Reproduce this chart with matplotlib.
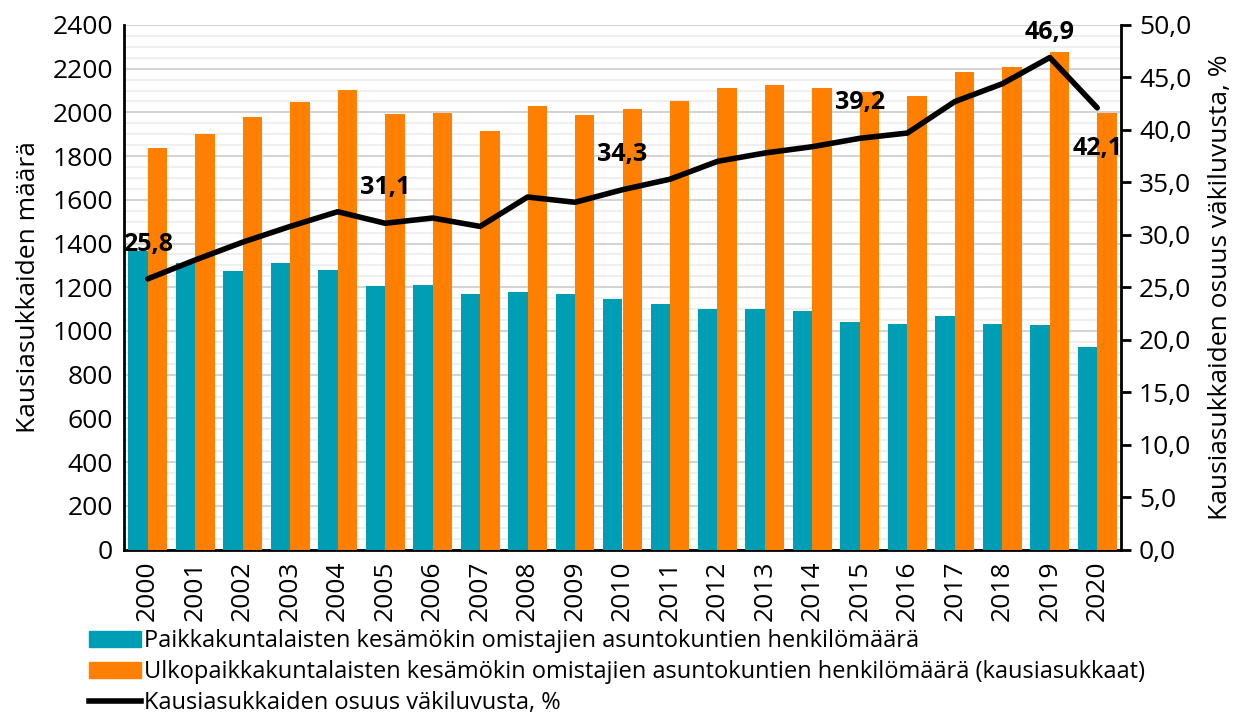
import matplotlib
matplotlib.use("Agg")
import matplotlib.pyplot as plt
import numpy as np
from matplotlib.ticker import MultipleLocator, FuncFormatter
from matplotlib.patches import Patch
from matplotlib.lines import Line2D

plt.rcParams['font.family'] = ['Open Sans', 'DejaVu Sans']

years = [str(y) for y in range(2000, 2021)]
local_persons = [1364, 1313, 1273, 1313, 1278, 1208, 1210, 1171, 1176, 1170, 1147,
                 1122, 1099, 1099, 1090, 1040, 1031, 1069, 1031, 1025, 925]
outside_persons = [1837, 1901, 1977, 2047, 2103, 1993, 1996, 1915, 2029, 1990, 2016,
                   2054, 2110, 2124, 2110, 2094, 2077, 2187, 2208, 2278, 1997]
share_pct = [25.8, 27.6, 29.3, 30.8, 32.2, 31.1, 31.6, 30.8, 33.6, 33.1, 34.3,
             35.3, 37.0, 37.8, 38.4, 39.2, 39.7, 42.7, 44.4, 46.9, 42.1]
labelled_years = ['2000', '2005', '2010', '2015', '2019', '2020']

legend_labels = [
    "Paikkakuntalaisten kesämökin omistajien asuntokuntien henkilömäärä",
    "Ulkopaikkakuntalaisten kesämökin omistajien asuntokuntien henkilömäärä (kausiasukkaat)",
    "Kausiasukkaiden osuus väkiluvusta, %",
]

teal = '#009EB5'
orange = '#FF8000'

fig = plt.figure(figsize=(12.41, 7.2), dpi=100)
ax = fig.add_axes([124/1241, 1 - 549.5/720, (1121-124)/1241, (549.5-25)/720])
ax2 = ax.twinx()

x = np.arange(len(years))
w = 0.41
ax.bar(x - w/2, local_persons, w, color=teal, zorder=3)
ax.bar(x + w/2, outside_persons, w, color=orange, zorder=3)

ax.set_xlim(-0.5, len(years) - 0.5)
ax.set_ylim(0, 2400)
ax.yaxis.set_major_locator(MultipleLocator(200))
ax.yaxis.set_minor_locator(MultipleLocator(50))
ax.grid(axis='y', which='major', color='#d4d4d4', lw=1.5, zorder=0)
ax.grid(axis='y', which='minor', color='#ececec', lw=1.2, zorder=0)
ax.set_axisbelow(True)
ax.set_xticks(x)
ax.set_xticklabels(years, rotation=90, fontsize=19)
ax.tick_params(axis='x', length=0, pad=8)
ax.tick_params(axis='y', which='both', length=0, labelsize=19, pad=8)
ax.set_ylabel("Kausiasukkaiden määrä", fontsize=19, labelpad=8)

ax2.plot(x, share_pct, color='black', lw=4, solid_capstyle='round', solid_joinstyle='round', zorder=5)
ax2.set_ylim(0, 50)
ax2.yaxis.set_major_locator(MultipleLocator(5))
ax2.yaxis.set_major_formatter(FuncFormatter(lambda v, p: f"{v:.1f}".replace('.', ',')))
ax2.tick_params(axis='y', length=7, width=2, labelsize=19, pad=6)
ax2.set_ylabel("Kausiasukkaiden osuus väkiluvusta, %", fontsize=19, labelpad=12)

ax.spines['top'].set_visible(False)
ax2.spines['top'].set_visible(False)
ax2.spines['left'].set_visible(False)
ax2.spines['bottom'].set_visible(False)
ax.spines['right'].set_visible(False)
ax.spines['left'].set_linewidth(2)
ax.spines['bottom'].set_linewidth(2)
ax2.spines['right'].set_linewidth(2)

offsets = {'2000': 25, '2005': 26, '2010': 25, '2015': 26, '2019': 18, '2020': -29}
for yr in labelled_years:
    i = years.index(yr)
    v = share_pct[i]
    ax2.annotate(f"{v:.1f}".replace('.', ','), (i, v), xytext=(0, offsets[yr]),
                 textcoords='offset points', ha='center', va='center', fontsize=18,
                 fontweight='bold', zorder=6)

handles = [Patch(color=teal), Patch(color=orange), Line2D([0], [0], color='black', lw=4)]
fig.legend(handles, legend_labels, loc='upper left', bbox_to_anchor=(80/1241, 1 - 620/720),
           frameon=False, fontsize=17, handlelength=2.2, handleheight=0.7,
           handletextpad=0.1, labelspacing=0.29, borderaxespad=0)

fig.savefig('out.png', dpi=100)
